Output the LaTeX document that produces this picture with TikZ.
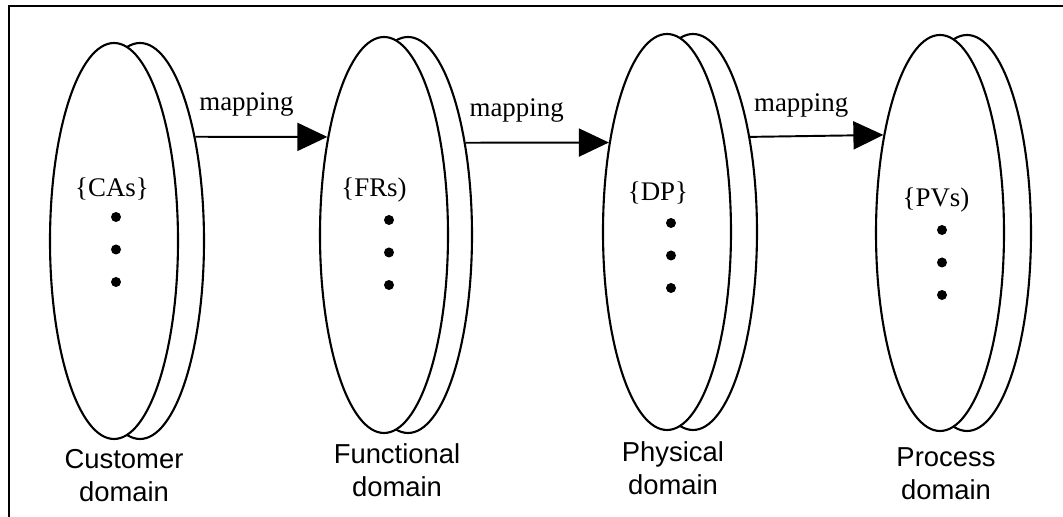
\documentclass[tikz,border=0pt]{standalone}
\usepackage{fontspec}
\setmainfont{Liberation Serif}
\setsansfont{Liberation Sans}
\usetikzlibrary{arrows.meta, positioning, shapes.geometric, calc}

\begin{document}
\begin{tikzpicture}[
  disc/.style={ellipse, draw, line width=1.2pt, fill=white, minimum width=2.56cm,
               minimum height=7.92cm, inner sep=0pt},
  arrow/.style={-{Triangle[length=0.6cm, width=0.56cm]}, line width=1.1pt},
  maplbl/.style={font=\fontsize{15.3}{18}\selectfont, anchor=south west,
                 inner sep=0pt, xshift=0.06cm, yshift=0.38cm},
  setlbl/.style={font=\fontsize{15.3}{18}\selectfont, inner sep=0pt},
  dot/.style={circle, fill, inner sep=0pt, minimum size=0.2cm},
  domlbl/.style={font=\sffamily\fontsize{15.6}{18.8}\selectfont, align=center}
]
  \useasboundingbox (0,0) rectangle (21.26,10.34);
  \draw[line width=1.1pt] (0.18,0) -- (0.18,10.22) -- (21.26,10.22);

  % back discs first, front discs on top
  \node[disc] (custb) at (2.80,5.52) {};
  \node[disc] (cust)  at (2.28,5.52) {};
  \node[disc] (funcb) at (8.16,5.64) {};
  \node[disc] (func)  at (7.68,5.64) {};
  \node[disc] (physb) at (13.86,5.70) {};
  \node[disc] (phys)  at (13.34,5.70) {};
  \node[disc] (procb) at (19.34,5.68) {};
  \node[disc] (proc)  at (18.80,5.68) {};

  \node[setlbl] (cas) at (2.24,6.56)  {\{CAs\}};
  \node[setlbl] (frs) at (7.48,6.54)  {\{FRs)};
  \node[setlbl] (dps) at (13.16,6.48) {\{DP\}};
  \node[setlbl] (pvs) at (18.72,6.34) {\{PVs)};

  \foreach \n/\x/\y in {cust/2.32/6.00, func/7.78/5.94, phys/13.42/5.88, proc/18.84/5.74}
    \foreach \i in {0,1,2}
      \node[dot] (\n-dot\i) at (\x,{\y-0.65*\i}) {};

  \draw[arrow] (custb.62) -- node[pos=0, maplbl] {mapping} (func.120);
  \draw[arrow] (funcb.58) -- node[pos=0, maplbl] {mapping} (phys.123);
  \draw[arrow] (physb.59) -- node[pos=0, maplbl] {mapping} (proc.120);

  \node[domlbl] (custlbl) at (2.48,0.82)  {Customer\\domain};
  \node[domlbl] (funclbl) at (7.94,0.94)  {Functional\\domain};
  \node[domlbl] (physlbl) at (13.46,0.98) {Physical\\domain};
  \node[domlbl] (proclbl) at (18.92,0.86) {Process\\domain};
\end{tikzpicture}
\end{document}
